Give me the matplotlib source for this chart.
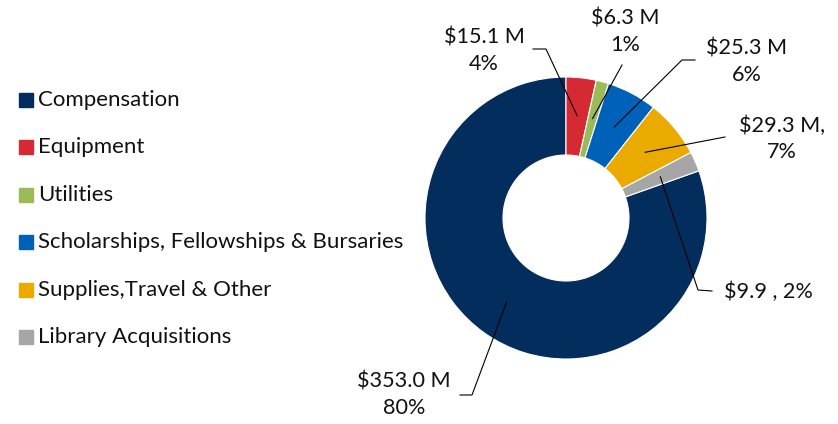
import numpy as np
import matplotlib
matplotlib.use('Agg')
import matplotlib.pyplot as plt
from matplotlib.patches import Rectangle

plt.rcParams['font.family'] = ['Lato', 'DejaVu Sans']

# Dados
categorias = ['Compensation', 'Equipment', 'Utilities',
              'Scholarships, Fellowships & Bursaries',
              'Supplies,Travel & Other', 'Library Acquisitions']
valores = [353.0, 15.1, 6.3, 25.3, 29.3, 9.9]
rotulos = ['$353.0 M\n80%', '$15.1 M\n4%', '$6.3 M\n1%',
           '$25.3 M\n6%', '$29.3 M,\n7%', '$9.9 , 2%']
cores = ['#032D5C', '#D52A33', '#9BBB59', '#0061B9', '#EAAA00', '#A6A6A6']

W, H = 838, 424
fig = plt.figure(figsize=(W / 100, H / 100), dpi=100)
ax = fig.add_axes([0, 0, 1, 1])

# centro e raio do anel (pixels, y para cima)
cx, cy = 566, H - 218
R = 141
largura = 78

total = sum(valores)
ang0 = 90 + 360 * valores[0] / total
wedges, _ = ax.pie(valores, colors=cores, startangle=ang0, counterclock=False,
                   center=(cx, cy), radius=R,
                   wedgeprops=dict(width=largura, edgecolor='white', linewidth=0.8))

# posicoes dos rotulos e cotovelos das linhas (pixels, y para baixo)
pos_texto = [(404, 395, 'center'), (484, 51, 'center'), (625, 32, 'center'),
             (747, 62, 'center'), (782, 139, 'center'), (724, 292, 'left')]
cotovelos = [[(472, 395), (460, 395)],
             [(546, 49), (533, 49)],
             [(622, 65)],
             [(682, 60), (695, 60)],
             [(725, 137)],
             [(698, 290), (712, 291)]]

for w, txt, (tx, ty, ha), cot in zip(wedges, rotulos, pos_texto, cotovelos):
    meio = np.deg2rad((w.theta1 + w.theta2) / 2)
    x0 = cx + 0.73 * R * np.cos(meio)
    y0 = cy + 0.73 * R * np.sin(meio)
    xs = [x0] + [p[0] for p in cot]
    ys = [y0] + [H - p[1] for p in cot]
    ax.plot(xs, ys, color='black', lw=0.8)
    ax.text(tx, H - ty, txt, ha=ha, va='center', fontsize=15.6,
            linespacing=1.4, color='#111111')

# legenda
for i, (cat, cor) in enumerate(zip(categorias, cores)):
    y = H - (100 + 47.4 * i)
    ax.add_patch(Rectangle((19, y - 7), 14, 14, color=cor))
    ax.text(38, y, cat, va='center', ha='left', fontsize=16, color='#111111')

ax.set_xlim(0, W)
ax.set_ylim(0, H)
ax.set_aspect('equal')
ax.axis('off')

fig.savefig('out.png', dpi=100)
